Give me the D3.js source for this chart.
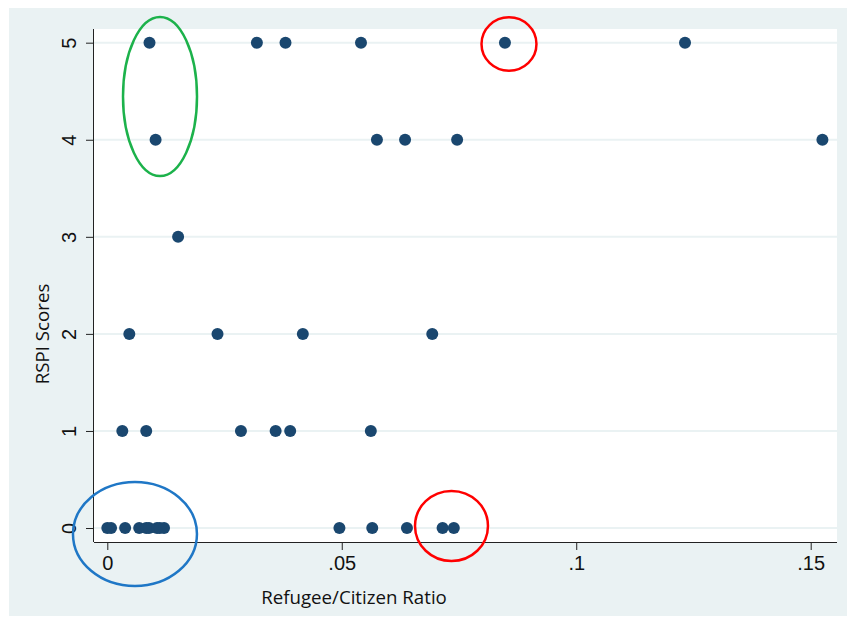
<!DOCTYPE html>
<html>
<head>
<meta charset="utf-8">
<script src="https://cdn.jsdelivr.net/npm/d3@7"></script>
<style>
  body { margin: 0; background: #fff; }
</style>
</head>
<body>
<svg id="chart" width="847" height="621"></svg>
<script>
// RSPI score by refugee/citizen ratio, one array per score level
const score5 = [0.0090, 0.0319, 0.0380, 0.0541, 0.0848, 0.1232];
const score4 = [0.0103, 0.0575, 0.0635, 0.0746, 0.1525];
const score3 = [0.0151];
const score2 = [0.0047, 0.0235, 0.0417, 0.0693];
const score1 = [0.0032, 0.0083, 0.0285, 0.0359, 0.0390, 0.0562];
const score0 = [0.0000, 0.0008, 0.0038, 0.0068, 0.0083, 0.0089, 0.0106, 0.0112, 0.0121,
                0.0495, 0.0565, 0.0639, 0.0715, 0.0739];

const xTicks = [0, 0.05, 0.1, 0.15];
const xTickLabels = ["0", ".05", ".1", ".15"];
const yTicks = [0, 1, 2, 3, 4, 5];

// hand-drawn highlight ellipses, in data units: [cx, cy, rx, ry, colour]
const highlights = [
  [0.01124, 4.446, 0.00789, 0.819, "#1cb24b"],
  [0.00590, -0.062, 0.01322, 0.536, "#1f77c6"],
  [0.0734, 0.021, 0.00778, 0.361, "#ff0000"],
  [0.08566, 4.987, 0.00586, 0.275, "#ff0000"]
];

const points = [];
[score0, score1, score2, score3, score4, score5].forEach((xs, s) => {
  xs.forEach(v => points.push({x: v, y: s}));
});

const svg = d3.select("#chart");
const ctx = {left: 94, right: 837, top: 29, bottom: 542};

svg.append("rect")
   .attr("x", 9).attr("y", 8)
   .attr("width", 838).attr("height", 608)
   .attr("fill", "#eaf2f3");

svg.append("rect")
   .attr("x", ctx.left).attr("y", ctx.top)
   .attr("width", ctx.right - ctx.left).attr("height", ctx.bottom - ctx.top)
   .attr("fill", "#ffffff");

const xScale = d3.scaleLinear()
                 .domain([-0.002836, 0.15561])
                 .range([ctx.left, ctx.right]);

const yScale = d3.scaleLinear()
                 .domain([-0.144, 5.141])
                 .range([ctx.bottom, ctx.top]);

// grid lines
svg.append("g")
   .selectAll("line")
   .data(yTicks)
   .enter()
   .append("line")
   .attr("x1", ctx.left).attr("x2", ctx.right)
   .attr("y1", d => yScale(d)).attr("y2", d => yScale(d))
   .attr("stroke", "#eaf2f3")
   .attr("stroke-width", 2);

// axes
const xAxis = d3.axisBottom(xScale)
                .tickValues(xTicks)
                .tickFormat((d, i) => xTickLabels[i])
                .tickSize(8)
                .tickPadding(6)
                .tickSizeOuter(0);

const yAxis = d3.axisLeft(yScale)
                .tickValues(yTicks)
                .tickFormat(d3.format("d"))
                .tickSize(8)
                .tickSizeOuter(0);

const gx = svg.append("g")
              .attr("transform", "translate(0," + ctx.bottom + ")")
              .call(xAxis);
gx.select(".domain").attr("d", "M" + ctx.left + ",0.5H" + ctx.right).attr("stroke", "#222");
gx.selectAll(".tick line").attr("stroke", "#222");
gx.selectAll(".tick text")
  .attr("fill", "#111")
  .style("font-family", "Liberation Sans, Arial, sans-serif")
  .style("font-size", "20px");

const gy = svg.append("g")
              .attr("transform", "translate(" + ctx.left + ",0)")
              .call(yAxis);
gy.select(".domain").attr("d", "M-0.5," + ctx.top + "V" + ctx.bottom).attr("stroke", "#222");
gy.selectAll(".tick line").attr("stroke", "#222");
gy.selectAll(".tick text")
  .attr("fill", "#111")
  .attr("x", 0)
  .attr("text-anchor", "middle")
  .attr("transform", "translate(-25,0) rotate(-90)")
  .attr("dy", "0.35em")
  .style("font-family", "Liberation Sans, Arial, sans-serif")
  .style("font-size", "20px");

// axis titles
svg.append("text")
   .attr("x", 354).attr("y", 604)
   .attr("text-anchor", "middle")
   .attr("fill", "#111")
   .style("font-family", "Open Sans, sans-serif")
   .style("font-size", "18.7px")
   .text("Refugee/Citizen Ratio");

svg.append("text")
   .attr("transform", "translate(49,334) rotate(-90)")
   .attr("text-anchor", "middle")
   .attr("fill", "#111")
   .style("font-family", "Open Sans, sans-serif")
   .style("font-size", "18.7px")
   .text("RSPI Scores");

// markers
svg.append("g")
   .selectAll("circle")
   .data(points)
   .enter()
   .append("circle")
   .attr("cx", d => xScale(d.x))
   .attr("cy", d => yScale(d.y))
   .attr("r", 6)
   .attr("fill", "#1a476f");

// highlight ellipses
svg.append("g")
   .selectAll("ellipse")
   .data(highlights)
   .enter()
   .append("ellipse")
   .attr("cx", d => xScale(d[0]))
   .attr("cy", d => yScale(d[1]))
   .attr("rx", d => xScale(d[2]) - xScale(0))
   .attr("ry", d => yScale(0) - yScale(d[3]))
   .attr("fill", "none")
   .attr("stroke", d => d[4])
   .attr("stroke-width", 2.5);
</script>
</body>
</html>
